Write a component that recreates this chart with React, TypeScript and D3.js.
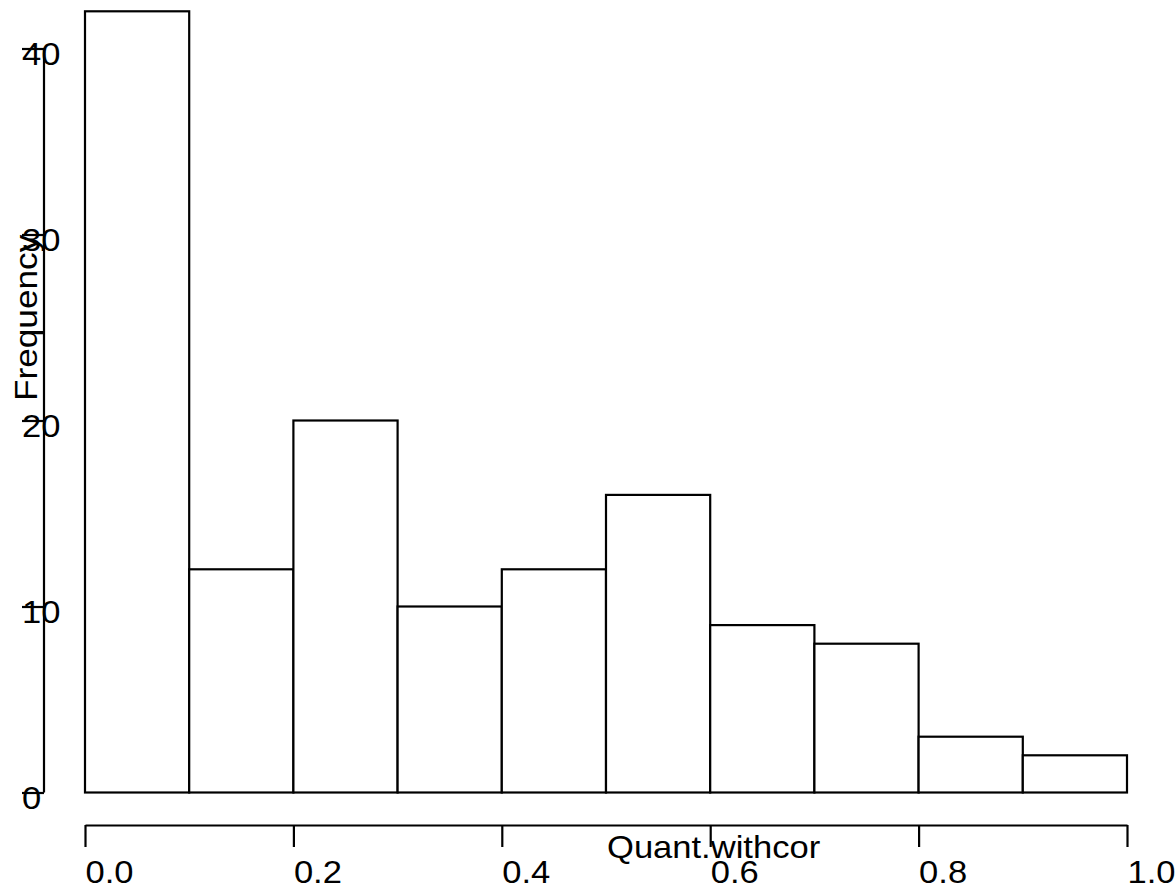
import React, { useEffect, useRef } from 'react';
import * as d3 from 'd3';

// histogram of Quant.withcor, breaks every 0.1
const binStarts = [0.0, 0.1, 0.2, 0.3, 0.4, 0.5, 0.6, 0.7, 0.8, 0.9];
const counts = [42, 12, 20, 10, 12, 16, 9, 8, 3, 2];
const xTicks = [0.0, 0.2, 0.4, 0.6, 0.8, 1.0];
const yTicks = [0, 10, 20, 30, 40];
const binWidth = 0.1;

const FONT = "'Liberation Sans', Arial, Helvetica, sans-serif";
const SIZE = '32px';
const STRETCH = 1.08;

export default function App() {
  const ref = useRef<SVGSVGElement>(null);

  useEffect(() => {
    const svg = d3.select(ref.current);
    svg.selectAll('*').remove();

    const x = d3.scaleLinear().domain([0, 1]).range([85, 1127]);
    const y = d3.scaleLinear().domain([0, 42]).range([792.5, 11.3]);

    const bins = binStarts.map((s, i) => ({ x0: s, x1: s + binWidth, n: counts[i] }));

    svg.append('g')
      .selectAll('rect')
      .data(bins)
      .join('rect')
      .attr('x', d => x(d.x0))
      .attr('y', d => y(d.n))
      .attr('width', d => x(d.x1) - x(d.x0))
      .attr('height', d => y(0) - y(d.n))
      .attr('fill', '#fff')
      .attr('stroke', '#000')
      .attr('stroke-width', 2.2);

    // x axis
    const gx = svg.append('g')
      .attr('transform', 'translate(0, 825)')
      .call(d3.axisBottom(x).tickValues(xTicks).tickSize(22).tickSizeOuter(0).tickFormat(d3.format('.1f')));
    gx.selectAll('path, line').attr('stroke', '#000').attr('stroke-width', 2.2);
    gx.selectAll('text')
      .attr('x', null)
      .attr('y', null)
      .attr('dy', null)
      .attr('transform', `translate(0, 57.5) scale(${STRETCH}, 1)`)
      .attr('text-anchor', 'start')
      .attr('fill', '#000')
      .style('font-size', SIZE)
      .style('font-family', FONT);

    // y axis
    const gy = svg.append('g')
      .attr('transform', 'translate(44, 0)')
      .call(d3.axisLeft(y).tickValues(yTicks).tickSize(22).tickFormat(d3.format('d')));
    gy.select('.domain').remove();
    gy.append('line')
      .attr('x1', 0).attr('x2', 0)
      .attr('y1', y(0)).attr('y2', y(40))
      .attr('stroke', '#000');
    gy.selectAll('line').attr('stroke', '#000').attr('stroke-width', 2.2);
    gy.selectAll('text')
      .attr('x', null)
      .attr('dy', null)
      .attr('transform', `translate(-22, 16) scale(${STRETCH}, 1)`)
      .attr('text-anchor', 'start')
      .attr('fill', '#000')
      .style('font-size', SIZE)
      .style('font-family', FONT);

    // axis titles
    svg.append('text')
      .attr('transform', `translate(607, 858) scale(${STRETCH}, 1)`)
      .style('font-size', SIZE)
      .style('font-family', FONT)
      .text('Quant.withcor');

    svg.append('text')
      .attr('transform', `translate(37, 401) rotate(-90) scale(1.1, 1)`)
      .style('font-size', SIZE)
      .style('font-family', FONT)
      .text('Frequency');
  }, []);

  return (
    <svg
      ref={ref}
      width={1176}
      height={886}
      style={{ position: 'absolute', left: 0, top: 0, background: '#fff' }}
    />
  );
}
